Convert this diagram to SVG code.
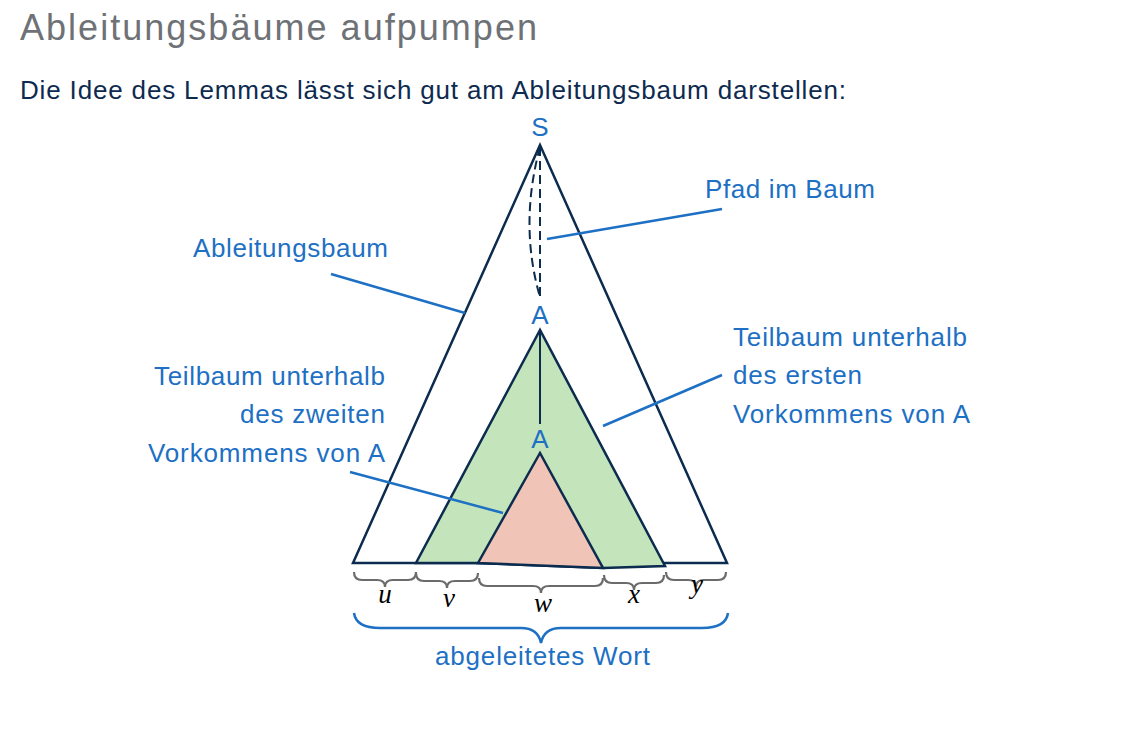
<svg xmlns="http://www.w3.org/2000/svg" width="1133" height="739" viewBox="0 0 1133 739">
<style>
.lbl{font-family:"Liberation Sans",Arial,sans-serif;font-size:26px;fill:#1d70c4}
.call{stroke:#1d70c4;stroke-width:2.5;fill:none}
.tri{stroke:#0c2c4f;stroke-width:2.5;stroke-linejoin:miter}
.br{stroke:#6b6b6b;stroke-width:2.2;fill:none}
.var{font-family:"Liberation Serif","Times New Roman",serif;font-style:italic;font-size:27px;fill:#000}
</style>
<rect width="1133" height="739" fill="#fff"/>
<text x="20" y="40" font-family="Liberation Sans,Arial,sans-serif" font-size="36" fill="#6e7276" textLength="517" lengthAdjust="spacing">Ableitungsbäume aufpumpen</text>
<text x="20" y="99" font-family="Liberation Sans,Arial,sans-serif" font-size="26" fill="#0d2a50" textLength="826" lengthAdjust="spacing">Die Idee des Lemmas lässt sich gut am Ableitungsbaum darstellen:</text>
<g id="tree">
<polygon class="tri" points="540,145 353,563 727,563" fill="#fff"/>
</g>
<g id="subtree1">
<polygon class="tri" points="540,330 416,563 478,563 603,568 665,566" fill="#c4e4bc"/>
</g>
<g id="subtree2">
<polygon class="tri" points="540,453 478,563 603,568" fill="#f0c5b8"/>
</g>
<g id="connectors">
<path d="M540,147 L540,297" stroke="#0c2c4f" stroke-width="2" stroke-dasharray="9,5" fill="none"/>
<path d="M540,147 Q519,225 540,297" stroke="#0c2c4f" stroke-width="2" stroke-dasharray="9,5" fill="none"/>
<line x1="540" y1="330" x2="540" y2="424" stroke="#0c2c4f" stroke-width="2"/>
<line class="call" x1="547" y1="239" x2="722" y2="209"/>
<line class="call" x1="331" y1="274" x2="465" y2="313"/>
<line class="call" x1="603" y1="426" x2="722" y2="375"/>
<line class="call" x1="350" y1="472" x2="503" y2="513"/>
</g>
<g id="labels">
<text class="lbl" x="540" y="136" text-anchor="middle">S</text>
<text class="lbl" x="540" y="324" text-anchor="middle">A</text>
<text class="lbl" x="540" y="448" text-anchor="middle">A</text>
<text class="lbl" x="705" y="198" textLength="170" lengthAdjust="spacing">Pfad im Baum</text>
<text class="lbl" x="193" y="257" textLength="195" lengthAdjust="spacing">Ableitungsbaum</text>
<text class="lbl" x="733" y="346" textLength="234" lengthAdjust="spacing">Teilbaum unterhalb</text>
<text class="lbl" x="733" y="384" textLength="129" lengthAdjust="spacing">des ersten</text>
<text class="lbl" x="733" y="423" textLength="237" lengthAdjust="spacing">Vorkommens von A</text>
<text class="lbl" x="154" y="385" textLength="231" lengthAdjust="spacing">Teilbaum unterhalb</text>
<text class="lbl" x="240" y="423" textLength="145" lengthAdjust="spacing">des zweiten</text>
<text class="lbl" x="148" y="462" textLength="237" lengthAdjust="spacing">Vorkommens von A</text>
</g>
<g id="braces">
<path class="br" d="M354,572 Q354,580 362,580 L377,580 Q385,580 385,587 Q385,580 393,580 L408,580 Q416,580 416,572"/>
<path class="br" d="M416,573 Q416,581 424,581 L439,581 Q447,581 447,588 Q447,581 455,581 L470,581 Q478,581 478,573"/>
<path class="br" d="M479,578 Q479,586 487,586 L533,586 Q541,586 541,593 Q541,586 549,586 L595,586 Q603,586 603,578"/>
<path class="br" d="M604,575 Q604,583 612,583 L626,583 Q634,583 634,590 Q634,583 642,583 L656,583 Q664,583 664,575"/>
<path class="br" d="M666,572 Q666,580 674,580 L688,580 Q696,580 696,587 Q696,580 704,580 L718,580 Q726,580 726,572"/>
<text class="var" x="385" y="603" text-anchor="middle">u</text>
<text class="var" x="449" y="607" text-anchor="middle">v</text>
<text class="var" x="543" y="612" text-anchor="middle">w</text>
<text class="var" x="634" y="603" text-anchor="middle">x</text>
<text class="var" x="697" y="593" text-anchor="middle">y</text>
</g>
<g id="word">
<path d="M354,613 Q356,628 380,628 L521,628 Q538,628 541,643 Q544,628 561,628 L702,628 Q726,628 728,613" stroke="#1d70c4" stroke-width="2.5" fill="none"/>
<text class="lbl" x="435" y="665" textLength="215" lengthAdjust="spacing">abgeleitetes Wort</text>
</g>
</svg>
